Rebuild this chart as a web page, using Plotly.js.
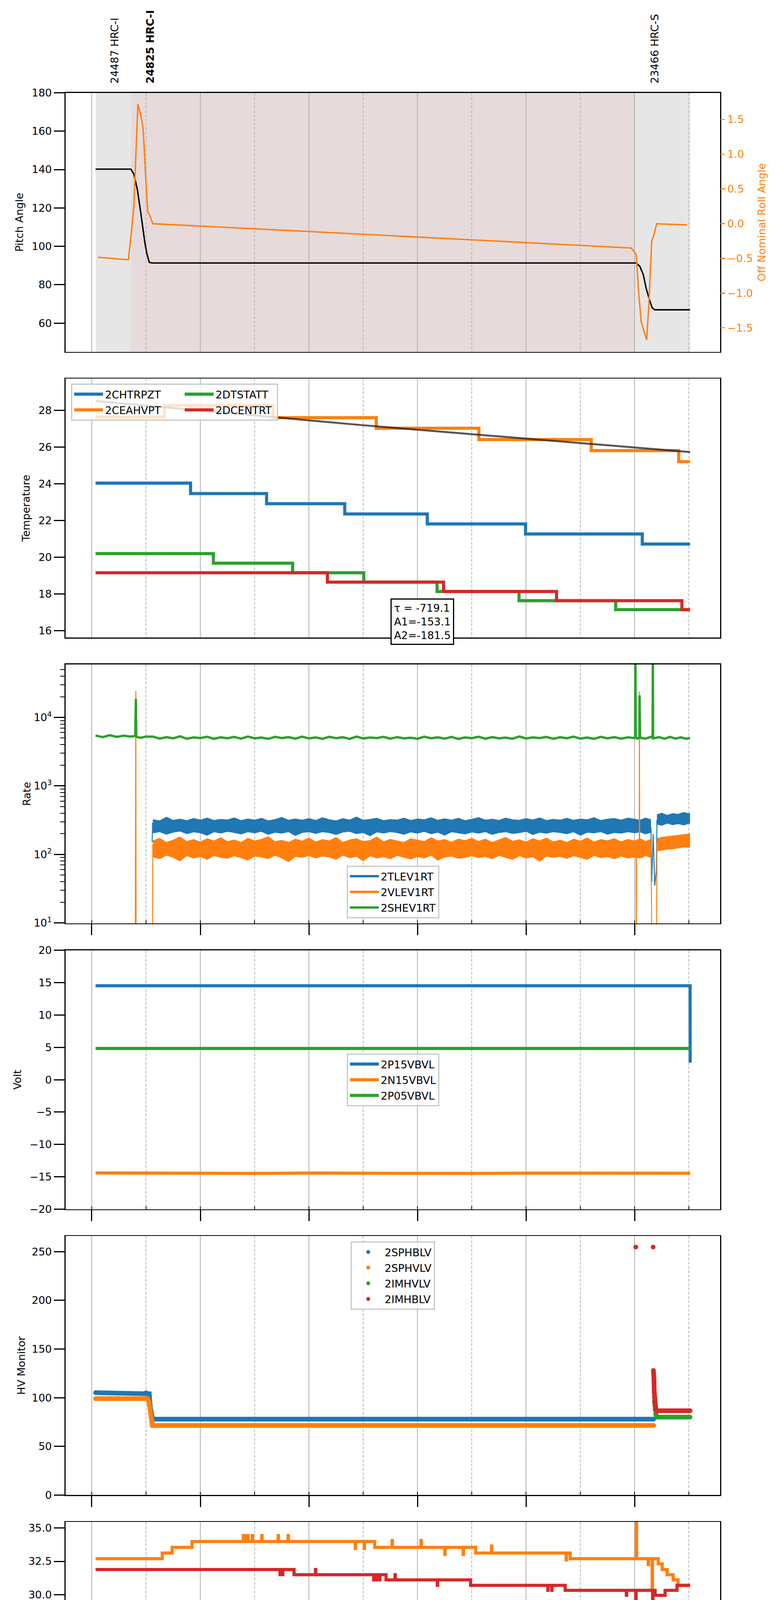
<!DOCTYPE html>
<html>
<head>
<meta charset="utf-8">
<script src="https://cdn.plot.ly/plotly-3.0.1.min.js"></script>
<style>
body { margin: 0; background: #fff; }
#plot { width: 2000px; height: 5400px; }
</style>
</head>
<body>
<div id="plot"></div>
<script>
// all times are decimal hours of 2021-05-30
var DAY = '2021-05-30'

// obsid bands
var obsidNames = ['24487 HRC-I', '24825 HRC-I', '23466 HRC-S']
var obsidStart = [2.071, 2.721, 12.013]
var obsidStop = 13.022
var currentObsid = 1

// panel 1: pitch + off nominal roll
var pitchT = [2.07, 2.72, 2.776, 2.84, 2.904, 2.941, 2.978, 3.014, 3.06, 3.115, 12.03, 12.096, 12.159, 12.214, 12.278, 12.324, 12.37, 13.02]
var pitchV = [140.2, 140.2, 137.6, 129.6, 117.2, 109.2, 101.9, 96.3, 91.6, 91.3, 91.3, 89.5, 85.2, 77.8, 71.6, 67.9, 66.9, 66.9]
var rollT = [2.116, 2.428, 2.675, 2.721, 2.776, 2.813, 2.85, 2.886, 2.923, 2.95, 2.978, 3.005, 3.033, 3.069, 3.124, 3.179, 7.0, 11.937, 12.029, 12.075, 12.12, 12.175, 12.221, 12.258, 12.313, 12.359, 12.405, 12.505, 12.963]
var rollV = [-0.484, -0.504, -0.521, -0.187, 0.256, 1.005, 1.721, 1.619, 1.483, 1.329, 0.903, 0.494, 0.171, 0.119, 0.0, -0.003, -0.153, -0.351, -0.443, -1.005, -1.414, -1.55, -1.676, -1.209, -0.255, -0.153, 0.0, -0.005, -0.017]

// panel 2: temperatures (steps) and exponential fit
var chtrpztT = [2.07, 3.82, 5.22, 6.66, 8.18, 9.99, 12.14, 13.02]
var chtrpztV = [24.04, 23.47, 22.92, 22.36, 21.82, 21.27, 20.72, 20.72]
var ceahvptT = [2.07, 3.34, 5.34, 7.24, 9.13, 11.2, 12.81, 13.02]
var ceahvptV = [27.64, 28.27, 27.6, 27.03, 26.41, 25.81, 25.21, 25.21]
var dtstattT = [2.07, 4.24, 5.7, 7.01, 8.36, 9.87, 11.65, 13.02]
var dtstattV = [20.2, 19.68, 19.16, 18.65, 18.14, 17.64, 17.15, 17.15]
var dcentrtT = [2.07, 6.34, 8.48, 10.56, 12.87, 13.02]
var dcentrtV = [19.16, 18.65, 18.14, 17.64, 17.15, 17.15]
var fitT = [2.07, 7.0, 13.02]
var fitV = [28.51, 27.19, 25.73]
var fitTau = -719.1, fitA1 = -153.1, fitA2 = -181.5

// panel 3: event rates (noisy, drawn as upper/lower envelopes)
var rateT = [3.125, 3.25, 3.375, 3.5, 3.625, 3.75, 3.875, 4.0, 4.125, 4.25, 4.375, 4.5,
  4.625, 4.75, 4.875, 5.0, 5.125, 5.25, 5.375, 5.5, 5.625, 5.75, 5.875, 6.0,
  6.125, 6.25, 6.375, 6.5, 6.625, 6.75, 6.875, 7.0, 7.125, 7.25, 7.375, 7.5,
  7.625, 7.75, 7.875, 8.0, 8.125, 8.25, 8.375, 8.5, 8.625, 8.75, 8.875, 9.0,
  9.125, 9.25, 9.375, 9.5, 9.625, 9.75, 9.875, 10.0, 10.125, 10.25, 10.375, 10.5,
  10.625, 10.75, 10.875, 11.0, 11.125, 11.25, 11.375, 11.5, 11.625, 11.75, 11.875, 12.0,
  12.1, 12.2, 12.3]
var tlevHi = [322, 310, 350, 315, 328, 312, 336, 318, 340, 314, 326, 320,
  342, 312, 330, 318, 338, 310, 324, 348, 316, 330, 318, 334,
  314, 344, 322, 310, 334, 318, 352, 316, 326, 338, 312, 324,
  318, 340, 314, 330, 322, 344, 316, 332, 318, 338, 312, 326,
  346, 318, 328, 314, 340, 322, 316, 334, 320, 342, 314, 326,
  318, 338, 316, 330, 322, 344, 314, 328, 336, 318, 340, 326,
  318, 340, 322]
var tlevLo = [205, 214, 196, 210, 218, 200, 212, 206, 190, 213, 204, 216,
  208, 198, 213, 205, 216, 195, 210, 203, 214, 188, 208, 213,
  202, 213, 207, 194, 211, 216, 200, 208, 186, 212, 204, 214,
  207, 196, 212, 203, 216, 199, 210, 190, 213, 205, 198, 211,
  203, 214, 195, 208, 213, 201, 207, 216, 194, 210, 203, 213,
  208, 199, 213, 189, 210, 205, 214, 196, 208, 203, 213, 206,
  212, 198, 210]
var vlevHi = [158, 172, 150, 162, 180, 155, 165, 152, 170, 158, 176, 154,
  163, 150, 172, 158, 166, 182, 154, 161, 150, 168, 157, 174,
  152, 165, 158, 178, 150, 163, 170, 155, 160, 180, 153, 166,
  158, 150, 170, 162, 154, 176, 158, 165, 151, 168, 160, 172,
  155, 168, 150, 163, 178, 156, 164, 152, 170, 158, 174, 153,
  162, 150, 168, 157, 175, 152, 165, 159, 170, 153, 166, 158,
  170, 155, 166]
var vlevLo = [92, 86, 97, 90, 80, 95, 88, 93, 84, 96, 90, 87,
  95, 89, 82, 94, 91, 86, 97, 88, 78, 93, 90, 96,
  88, 94, 91, 84, 97, 89, 93, 80, 95, 88, 92, 86,
  96, 90, 85, 93, 88, 97, 82, 91, 94, 87, 90, 95,
  89, 93, 86, 96, 90, 84, 95, 88, 92, 79, 94, 90,
  93, 87, 95, 90, 84, 96, 89, 92, 86, 94, 88, 91,
  88, 95, 90]
var lateT = [12.41, 12.5, 12.6, 12.7, 12.8, 12.9, 13.02]
var tlevHiLate = [380, 400, 372, 395, 385, 410, 392]
var tlevLoLate = [275, 265, 285, 270, 280, 268, 285]
var vlevHiLate = [170, 178, 182, 186, 190, 196, 200]
var vlevLoLate = [112, 115, 118, 120, 124, 128, 126]
// single excursions (null breaks the line)
var tlevEvT = [3.113, 3.12, null, 12.3, 12.315, 12.34, 12.37, 12.4, 12.41]
var tlevEvV = [150, 290, null, 250, 40, 200, 35, 60, 320]
var vlevEvT = [2.80, 2.812, 2.818, 3.114, 3.125, null, 12.025, 12.03, 12.035, 12.085, 12.088, 12.092, null, 12.3, 12.325, 12.398, 12.41]
var vlevEvV = [1, 24300, 1, 1, 140, null, 130, 1, 130, 130, 24000, 130, null, 140, 1, 1, 150]
var shevPreT = [2.07, 2.2, 2.33, 2.46, 2.59, 2.72, 2.80, 2.813, 2.82, 2.9, 3.0]
var shevPreV = [5450, 5150, 5500, 5200, 5420, 5250, 5350, 18600, 5200, 5050, 5250]
var shevMainV = [5250, 4900, 5150, 4950, 5300, 4880, 5100, 5000, 5220, 4870, 5120, 4960,
  5180, 4900, 5260, 4950, 5080, 4860, 5200, 5000, 5150, 4890, 5240, 4940,
  5100, 4870, 5210, 4980, 5140, 4850, 5250, 4920, 5090, 4990, 5200, 4880,
  5160, 4940, 5060, 4870, 5230, 4960, 5120, 4900, 5180, 4850, 5100, 4980,
  5220, 4890, 5150, 4950, 5070, 4880, 5260, 4930, 5110, 4990, 5190, 4870,
  5140, 4960, 5230, 4900, 5080, 4870, 5200, 4950, 5160, 4890, 5120, 4980]
var shevPostT = [12.008, 12.013, 12.02, 12.05, 12.085, 12.09, 12.1, 12.2, 12.3, 12.33, 12.335, 12.34, 12.45, 12.55, 12.65, 12.75, 12.85, 12.95, 13.02]
var shevPostV = [5100, 100000, 5150, 4900, 5100, 21000, 5050, 4900, 5200, 5000, 100000, 4950, 5150, 4880, 5200, 4900, 5120, 4870, 5050]
var rateTicks = [10, 100, 1000, 10000]

// panel 4: voltages
var p15T = [2.07, 13.02, 13.022]
var p15V = [14.51, 14.51, 2.64]
var n15T = [2.07, 3, 4, 5, 6, 7, 8, 9, 10, 11, 12, 13.022]
var n15V = [-14.40, -14.45, -14.43, -14.47, -14.42, -14.46, -14.44, -14.48, -14.43, -14.45, -14.42, -14.44]
var p05T = [2.07, 13.022]
var p05V = [4.83, 4.83]

// panel 5: HV monitors (points)
var sphblvT = [2.07, 3.0, 3.06, 3.075, 3.085, 3.095, 3.105, 3.12, 12.35]
var sphblvV = [105.1, 105.1, 104, 92, 87, 82, 79, 78, 78]
var sphvlvT = [2.07, 3.03, 3.05, 3.07, 3.08, 3.09, 3.1, 3.11, 3.12, 12.35]
var sphvlvV = [99, 99, 97, 90, 85, 80, 75, 72, 71.4, 71.4]
var imhvlvT = [12.365, 12.375, 12.385, 12.40, 12.41, 13.02]
var imhvlvV = [96, 88, 83, 81, 80.1, 80.1]
var imhblvT = [12.02, null, 12.34, null, 12.345, 12.35, 12.355, 12.36, 12.365, 12.37, 12.375, 12.38, 12.39, 12.40, 12.416, 13.02]
var imhblvV = [254.7, null, 254.7, null, 128, 125, 119, 106, 100, 96, 92, 90, 88, 87, 86.6, 86.6]

// panel 6: detector temperatures (steps, with single-sample glitches)
var spinatmT = [2.07, 9.161, 12.643, 13.02]
var spinatmV = [18.29, 17.65, 17.0, 17.0]
var sphvatmT = [2.07, 3.298, 3.481, 3.848, 4.792, 4.798, 4.828, 4.834, 4.874, 4.88,
  4.957, 4.963, 5.131, 5.137, 5.433, 5.439, 5.616, 5.622, 6.853, 6.859,
  7.018, 7.024, 7.211, 7.532, 7.538, 8.063, 8.069, 8.502, 8.508, 8.841,
  8.847, 9.071, 9.363, 9.369, 10.738, 10.744, 10.812, 12.03, 12.036, 12.249,
  12.255, 12.322, 12.328, 12.434, 12.507, 12.598, 12.708, 12.8, 13.02]
var sphvatmV = [32.70, 33.12, 33.54, 33.98, 34.42, 33.98, 34.42, 33.98, 34.42, 33.98,
  34.42, 33.98, 34.42, 33.98, 34.42, 33.98, 34.42, 33.98, 33.46, 33.98,
  33.46, 33.98, 33.54, 34.05, 33.54, 34.05, 33.54, 33.02, 33.54, 33.02,
  33.54, 33.12, 33.64, 33.12, 32.61, 33.12, 32.70, 40, 32.70, 32.26,
  32.70, 30.48, 32.70, 32.31, 31.89, 31.5, 31.12, 30.71, 30.71]
var iminatmT = [2.07, 6.188, 8.52, 8.593, 8.599, 11.086, 13.02]
var iminatmV = [19.6, 18.94, 18.29, 18.94, 18.29, 17.65, 17.65]
var imhvatmT = [2.07, 5.468, 5.474, 5.514, 5.52, 5.726, 6.12, 6.126, 7.192, 7.198,
  7.238, 7.244, 7.302, 7.308, 7.42, 7.585, 7.591, 8.365, 8.371, 8.978,
  10.4, 10.406, 10.472, 10.478, 10.72, 11.846, 11.852, 12.02, 12.026, 12.33,
  12.336, 12.377, 12.56, 12.78, 13.02]
var imhvatmV = [31.89, 31.5, 31.89, 31.5, 31.89, 31.5, 31.89, 31.5, 31.12, 31.5,
  31.12, 31.5, 31.12, 31.5, 31.12, 31.5, 31.12, 30.71, 31.12, 30.71,
  30.34, 30.71, 30.34, 30.71, 30.34, 29.97, 30.34, 10, 30.34, 10,
  30.34, 29.97, 30.34, 30.71, 30.71]

// panel 7: FEA temperatures
var fhtrmztT = [2.07, 3.464, 4.243, 5.031, 5.893, 6.855, 7.944, 9.209, 10.766, 12.846, 13.02]
var fhtrmztV = [22.93, 22.36, 21.82, 21.27, 20.73, 20.2, 19.68, 19.16, 18.65, 18.15, 18.15]
var fradpytT = [2.07, 2.446, 2.794, 2.922, 3.216, 3.546, 4.059, 4.737, 5.516, 6.368, 7.357, 8.503, 9.932, 11.709, 13.02]
var fradpytV = [18.66, 18.15, 18.66, 18.15, 17.66, 17.16, 16.68, 16.19, 15.73, 15.25, 14.78, 14.33, 13.86, 13.40, 13.40]
var fepratmT = [2.07, 3.834, 5.067, 6.395, 7.944, 8.017, 8.023, 9.876, 12.01, 12.016, 12.32, 12.326, 12.625, 13.02]
var fepratmV = [24.6, 23.88, 23.15, 22.42, 21.70, 22.42, 21.70, 20.98, 16.38, 20.98, 19.37, 20.98, 20.30, 20.30]
var fe00atmT = [2.07, 3.152, 3.158, 3.438, 3.546, 3.552, 3.756, 3.762, 3.912, 3.918,
  4.015, 4.05, 4.056, 4.583, 5.16, 5.277, 5.283, 5.35, 5.356, 5.838,
  6.413, 6.419, 6.525, 6.531, 6.537, 7.064, 7.07, 7.24, 7.412, 7.418,
  7.485, 7.491, 7.613, 7.619, 7.723, 7.729, 7.906, 7.912, 8.092, 8.447,
  8.453, 8.502, 8.508, 8.539, 8.545, 8.594, 8.6, 8.98, 9.043, 9.049,
  9.126, 9.132, 9.482, 9.488, 9.812, 9.818, 9.885, 9.891, 10.06, 10.151,
  10.157, 10.38, 10.386, 10.591, 10.597, 10.692, 10.698, 11.04, 11.046, 11.15,
  11.156, 11.342, 11.507, 11.513, 11.535, 11.541, 11.819, 11.825, 12.02, 12.026,
  12.286, 12.292, 12.34, 12.346, 12.471, 12.477, 12.618, 12.624, 12.691, 12.697,
  12.764, 12.77, 12.874, 12.88, 13.0, 13.006, 13.02]
var fe00atmV = [22.66, 21.98, 22.66, 22.35, 21.38, 22.35, 22.70, 22.35, 22.70, 22.35,
  22.03, 21.68, 22.03, 21.72, 21.42, 20.72, 21.42, 22.05, 21.42, 21.1,
  21.44, 21.1, 20.82, 20.13, 20.82, 20.13, 20.82, 20.51, 21.14, 20.51,
  20.84, 20.51, 19.84, 20.51, 21.14, 20.51, 21.44, 20.51, 20.19, 20.54,
  20.19, 19.26, 20.19, 21.44, 20.19, 19.84, 20.19, 19.88, 20.54, 19.88,
  20.84, 19.88, 19.26, 19.88, 20.23, 19.88, 19.53, 19.88, 19.58, 20.84,
  19.58, 19.93, 19.58, 19.93, 19.58, 20.84, 19.58, 19.26, 19.58, 18.62,
  19.58, 19.3, 20.23, 19.3, 18.65, 19.3, 18.34, 19.3, 10, 19.3,
  19.65, 19.3, 10, 19.3, 18.06, 19.3, 19.65, 19.3, 17.78, 19.3,
  18.95, 19.3, 18.62, 19.3, 18.95, 19.3, 19.3]

// x tick labels that sit on the minor (odd) hours
var minorHours = [3, 5, 7, 9, 11, 13]

var BLUE = '#1f77b4', ORANGE = '#ff7f0e', GREEN = '#2ca02c', RED = '#d62728'

function p2(n) { return (n < 10 ? '0' : '') + n }
// decimal hour -> date string
function hrs(h) {
  if (h === null) return null
  var s = Math.round(h * 3600)
  return DAY + ' ' + p2(Math.floor(s / 3600)) + ':' + p2(Math.floor((s % 3600) / 60)) + ':' + p2(s % 60)
}
function xs(arr) { return arr.map(hrs) }

// geometry of the 7 stacked panels, in pixels of the 2000x5400 page
var W = 2000, H = 5400
var panelTop = 237.5, panelStep = 731.7, panelH = 663
var xDomain = [167.7 / W, 1844 / W]
function yDomain(k) {
  var t = panelTop + panelStep * (k - 1)
  return [1 - (t + panelH) / H, 1 - t / H]
}
function sfx(k) { return k == 1 ? '' : String(k) }

var data = []

function addLine(k, t, v, color, width, name, legend, extra) {
  var tr = {
    x: xs(t), y: v, xaxis: 'x' + sfx(k), yaxis: 'y' + sfx(k),
    type: 'scatter', mode: 'lines', name: name || '',
    line: { color: color, width: width },
    showlegend: !!legend, hoverinfo: 'skip'
  }
  if (legend) { tr.legend = legend; tr.legendgroup = name }
  for (var key in extra) tr[key] = extra[key]
  data.push(tr)
  return tr
}
function legendOnly(k, name, legend, color, asMarker) {
  var tr = {
    x: [null], y: [null], xaxis: 'x' + sfx(k), yaxis: 'y' + sfx(k), type: 'scatter',
    name: name, legend: legend, legendgroup: name, showlegend: true, hoverinfo: 'skip'
  }
  if (asMarker) { tr.mode = 'markers'; tr.marker = { color: color, size: 10 } }
  else { tr.mode = 'lines'; tr.line = { color: color, width: 6 } }
  data.push(tr)
}
function addBand(k, t, lo, hi, color) {
  addLine(k, t, lo, color, 1.5)
  addLine(k, t, hi, color, 1.5, '', null, { fill: 'tonexty', fillcolor: color })
}

// panel 1
addLine(1, pitchT, pitchV, 'black', 3.6)
data.push({ x: xs(rollT), y: rollV, xaxis: 'x', yaxis: 'y8', type: 'scatter', mode: 'lines',
  line: { color: ORANGE, width: 3.6 }, showlegend: false, hoverinfo: 'skip' })

// panel 2
function stepLine(k, t, v, color, name, legend) {
  return addLine(k, t, v, color, 8, name, legend, { line: { color: color, width: 8, shape: 'hv' } })
}
// the boxed left legend column is widened with no-break spaces so its box also holds the right column
var colPad = '\u00a0'.repeat(34)
var chtr = stepLine(2, chtrpztT, chtrpztV, BLUE, '2CHTRPZT', 'legend')
chtr.name = '2CHTRPZT' + colPad
stepLine(2, ceahvptT, ceahvptV, ORANGE, '2CEAHVPT', 'legend')
stepLine(2, dtstattT, dtstattV, GREEN, '2DTSTATT', 'legend2')
stepLine(2, dcentrtT, dcentrtV, RED, '2DCENTRT', 'legend2')
addLine(2, fitT, fitV, 'rgba(30,30,30,0.75)', 5)

// panel 3
addBand(3, rateT, tlevLo, tlevHi, BLUE)
addBand(3, lateT, tlevLoLate, tlevHiLate, BLUE)
addLine(3, tlevEvT, tlevEvV, BLUE, 2.5)
addBand(3, rateT, vlevLo, vlevHi, ORANGE)
addBand(3, lateT, vlevLoLate, vlevHiLate, ORANGE)
addLine(3, vlevEvT, vlevEvV, ORANGE, 2.5)
var shevT = shevPreT.concat(rateT.filter(function (t) { return t <= 12.0 }), shevPostT)
var shevV = shevPreV.concat(shevMainV, shevPostV)
addLine(3, shevT, shevV, GREEN, 6)
legendOnly(3, '2TLEV1RT', 'legend3', BLUE)
legendOnly(3, '2VLEV1RT', 'legend3', ORANGE)
legendOnly(3, '2SHEV1RT', 'legend3', GREEN)

// panel 4
addLine(4, p15T, p15V, BLUE, 8, '2P15VBVL', 'legend4')
addLine(4, n15T, n15V, ORANGE, 8, '2N15VBVL', 'legend4')
addLine(4, p05T, p05V, GREEN, 8, '2P05VBVL', 'legend4')

// panel 5: thick line + round dots, legend shows dots
var hvSeries = [[sphblvT, sphblvV, BLUE, '2SPHBLV'], [sphvlvT, sphvlvV, ORANGE, '2SPHVLV'],
  [imhvlvT, imhvlvV, GREEN, '2IMHVLV'], [imhblvT, imhblvV, RED, '2IMHBLV']]
hvSeries.forEach(function (s) {
  addLine(5, s[0], s[1], s[2], 12, '', null, { mode: 'lines+markers', marker: { color: s[2], size: 12 } })
})
hvSeries.forEach(function (s) { legendOnly(5, s[3], 'legend5', s[2], true) })

// panel 6
stepLine(6, spinatmT, spinatmV, BLUE, '2SPINATM', 'legend6')
stepLine(6, sphvatmT, sphvatmV, ORANGE, '2SPHVATM', 'legend6')
stepLine(6, iminatmT, iminatmV, GREEN, '2IMINATM', 'legend6')
stepLine(6, imhvatmT, imhvatmV, RED, '2IMHVATM', 'legend6')

// panel 7
stepLine(7, fhtrmztT, fhtrmztV, BLUE, '2FHTRMZT', 'legend7')
stepLine(7, fradpytT, fradpytV, ORANGE, '2FRADPYT', 'legend7')
stepLine(7, fepratmT, fepratmV, GREEN, '2FEPRATM', 'legend7')
stepLine(7, fe00atmT, fe00atmV, RED, '2FE00ATM', 'legend7')

// ---------- layout ----------
var layout = {
  width: W, height: H, autosize: false,
  margin: { l: 0, r: 0, t: 0, b: 0 },
  paper_bgcolor: 'white', plot_bgcolor: 'white',
  font: { family: 'DejaVu Sans', size: 27, color: 'black' },
  shapes: [], annotations: []
}

var titles = ['Pitch Angle', 'Temperature', 'Rate', 'Volt', 'HV Monitor', 'Detector Temp', 'FEA Temp']
var titleStandoff = [14, 14, 0, 14, 9, 14, 14]
var yExtra = [
  { range: [45.05, 180], dtick: 20, tick0: 0 },
  { range: [15.63, 29.73], dtick: 2, tick0: 0 },
  { type: 'log', range: [0.992, 4.774], tickvals: rateTicks,
    ticktext: rateTicks.map(function (v) { return '10<sup>' + Math.round(Math.log10(v)) + '</sup>' }),
    minor: { ticks: 'outside', ticklen: 11, tickwidth: 2, tickcolor: 'black', dtick: 'D1' } },
  { range: [-20, 20], dtick: 5, tick0: 0 },
  { range: [0, 266], dtick: 50, tick0: 0 },
  { range: [16.14, 35.44], dtick: 2.5, tick0: 0, tickformat: '.1f' },
  { range: [12.36, 24.64], dtick: 2, tick0: 0 }
]

for (var k = 1; k <= 7; k++) {
  var xa = {
    domain: xDomain, anchor: 'y' + sfx(k), type: 'date',
    range: [hrs(1.516), hrs(13.573)],
    showline: true, mirror: true, linecolor: 'black', linewidth: 2.5,
    showgrid: true, gridcolor: '#b0b0b0', gridwidth: 2,
    tick0: DAY + ' 00:00:00', dtick: 2 * 3600000,
    ticks: k >= 3 ? 'outside' : '', ticklen: 28, tickwidth: 3, tickcolor: 'black',
    showticklabels: k == 7, tickformat: '%Hh', tickfont: { size: 27 },
    zeroline: false, fixedrange: true,
    minor: { tick0: DAY + ' 01:00:00', dtick: 3600000, showgrid: true, gridcolor: '#b8b8b8',
      gridwidth: 2, griddash: '7px,4px', ticks: k >= 3 ? 'inside' : '', ticklen: 8, tickwidth: 2, tickcolor: 'black' }
  }
  if (k > 1) xa.matches = 'x'
  if (k == 7) xa.title = { text: DAY + ' (150)', font: { size: 27 }, standoff: 12 }
  layout['xaxis' + sfx(k)] = xa

  var ya = {
    domain: yDomain(k), anchor: 'x' + sfx(k),
    showline: true, mirror: true, linecolor: 'black', linewidth: 2.5,
    ticks: 'outside', ticklen: 27, tickwidth: 3, tickcolor: 'black',
    tickfont: { size: 27 }, showgrid: false, zeroline: false, fixedrange: true,
    title: { text: titles[k - 1], font: { size: 27 }, standoff: titleStandoff[k - 1] }
  }
  for (var key in yExtra[k - 1]) ya[key] = yExtra[k - 1][key]
  layout['yaxis' + sfx(k)] = ya

  // obsid shading + boundaries
  var xr = 'x' + sfx(k), yr = 'y' + sfx(k) + ' domain'
  var bands = k == 1
    ? [[obsidStart[0], obsidStart[1], '#e6e6e6'], [obsidStart[1], obsidStart[2], '#e6dada'], [obsidStart[2], obsidStop, '#e6e6e6']]
    : [[obsidStart[1], obsidStart[2], '#fff2f2']]
  bands.forEach(function (b) {
    layout.shapes.push({ type: 'rect', xref: xr, yref: yr, x0: hrs(b[0]), x1: hrs(b[1]), y0: 0, y1: 1,
      fillcolor: b[2], line: { width: 0 }, layer: 'below' })
  })
  obsidStart.concat([obsidStop]).forEach(function (t) {
    layout.shapes.push({ type: 'line', xref: xr, yref: yr, x0: hrs(t), x1: hrs(t), y0: 0, y1: 1,
      line: { color: 'black', width: 2 }, layer: 'between' })
  })
}

// roll angle on the right of panel 1
layout.yaxis8 = {
  overlaying: 'y', side: 'right', anchor: 'x', range: [-1.845, 1.885],
  dtick: 0.5, tick0: 0, tickformat: '.1f', showgrid: false, zeroline: false, showline: false,
  ticks: 'outside', ticklen: 12, tickwidth: 2.5, tickcolor: ORANGE,
  tickfont: { size: 27, color: ORANGE }, fixedrange: true,
  title: { text: 'Off Nominal Roll Angle', font: { size: 27, color: ORANGE }, standoff: 14 }
}

// legends, placed by the pixel corner of their box
function legendAt(xpx, ypx, boxed) {
  return { x: xpx / W, y: 1 - ypx / H, xanchor: 'left', yanchor: 'top', xref: 'paper', yref: 'paper',
    bgcolor: boxed ? 'rgba(255,255,255,0.8)' : 'rgba(0,0,0,0)',
    bordercolor: '#c8c8c8', borderwidth: boxed ? 3 : 0,
    font: { size: 27 }, itemwidth: 74,
    traceorder: 'grouped', tracegroupgap: 2, itemclick: false, itemdoubleclick: false }
}
layout.legend = legendAt(182, 982, true)
layout.legend2 = legendAt(468, 985, false)
layout.legend3 = legendAt(888, 2216, true)
layout.legend4 = legendAt(888, 2697, true)
layout.legend5 = legendAt(898, 3178, true)
layout.legend6 = legendAt(886, 4140, true)
layout.legend7 = legendAt(1585, 4643, true)

// obsid labels above panel 1
obsidNames.forEach(function (nm, i) {
  layout.annotations.push({
    xref: 'x', yref: 'paper', x: hrs(obsidStart[i] + 0.35), y: 1 - 216 / H,
    xanchor: 'center', yanchor: 'bottom', textangle: -90, showarrow: false,
    text: i == currentObsid ? '<b>' + nm + '</b>' : nm, font: { size: 27 }
  })
})

// fit parameters box in panel 2
layout.annotations.push({
  xref: 'paper', yref: 'paper', x: 1081.5 / W, y: 1 - 1591.5 / H, xanchor: 'center', yanchor: 'middle',
  showarrow: false, align: 'left',
  text: 'τ = ' + fitTau.toFixed(1) + '<br>A1=' + fitA1.toFixed(1) + '<br>A2=' + fitA2.toFixed(1),
  bgcolor: 'white', bordercolor: 'black', borderwidth: 3, borderpad: 6, font: { size: 27 }
})

// small labels on odd hours under the last panel
minorHours.forEach(function (h) {
  layout.annotations.push({
    xref: 'x7', yref: 'paper', x: hrs(h), y: 1 - 5305 / H, xanchor: 'center', yanchor: 'middle',
    showarrow: false, text: p2(h) + 'h', font: { size: 18 }
  })
})

try {
  Plotly.newPlot('plot', data, layout, { staticPlot: true, displayModeBar: false })
} catch (err) {
  console.error(err)
}
</script>
</body>
</html>
